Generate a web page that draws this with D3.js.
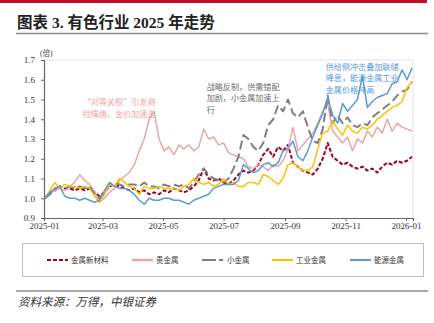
<!DOCTYPE html>
<html>
<head>
<meta charset="utf-8">
<script src="https://cdn.jsdelivr.net/npm/d3@7"></script>
<style>
  body { margin: 0; background: #fff; }
  svg { display: block; }
  .tick text { font-family: "Liberation Serif", "Times New Roman", serif; font-size: 9px; fill: #333; }
</style>
</head>
<body>
<div id="chart"></div>
<script>
// chart data
const dates = [
  "2025-01-02","2025-01-07","2025-01-12","2025-01-17","2025-01-22","2025-01-27",
  "2025-02-01","2025-02-06","2025-02-11","2025-02-16","2025-02-21","2025-02-26",
  "2025-03-03","2025-03-08","2025-03-13","2025-03-18","2025-03-23","2025-03-28",
  "2025-04-02","2025-04-07","2025-04-12","2025-04-17","2025-04-22","2025-04-27",
  "2025-05-02","2025-05-07","2025-05-12","2025-05-17","2025-05-22","2025-05-27",
  "2025-06-01","2025-06-06","2025-06-11","2025-06-16","2025-06-21","2025-06-26",
  "2025-07-01","2025-07-06","2025-07-11","2025-07-16","2025-07-21","2025-07-26","2025-07-31",
  "2025-08-05","2025-08-10","2025-08-15","2025-08-20","2025-08-25","2025-08-30",
  "2025-09-04","2025-09-09","2025-09-14","2025-09-19","2025-09-24","2025-09-29",
  "2025-10-04","2025-10-09","2025-10-14","2025-10-19","2025-10-24","2025-10-29",
  "2025-11-03","2025-11-08","2025-11-13","2025-11-18","2025-11-23","2025-11-28",
  "2025-12-03","2025-12-08","2025-12-13","2025-12-18","2025-12-23","2025-12-28",
  "2026-01-02","2026-01-07"
];

const newMaterials = [
  1.00,1.03,1.04,1.06,1.05,1.05,1.04,1.05,1.04,1.05,1.03,1.01,1.03,1.06,1.07,1.06,1.05,1.04,
  1.05,1.03,1.04,1.02,1.03,1.02,1.04,1.03,1.05,1.04,1.03,1.04,1.06,1.09,1.15,1.10,1.09,1.10,
  1.08,1.07,1.09,1.12,1.14,1.13,1.14,1.17,1.22,1.25,1.21,1.26,1.24,1.27,1.18,1.16,1.14,1.13,
  1.12,1.15,1.20,1.28,1.21,1.19,1.17,1.18,1.16,1.15,1.16,1.14,1.15,1.13,1.16,1.18,1.17,1.19,
  1.18,1.19,1.21
];
const preciousMetals = [
  1.00,1.03,1.04,1.05,1.04,1.06,1.08,1.12,1.09,1.07,1.03,0.98,1.00,1.03,1.05,1.09,1.11,1.13,
  1.17,1.24,1.30,1.40,1.44,1.30,1.24,1.26,1.22,1.27,1.25,1.27,1.24,1.26,1.35,1.30,1.31,1.27,
  1.28,1.23,1.22,1.21,1.20,1.16,1.15,1.17,1.16,1.14,1.17,1.16,1.19,1.25,1.36,1.24,1.27,1.30,
  1.33,1.38,1.44,1.48,1.34,1.31,1.28,1.31,1.24,1.30,1.28,1.34,1.31,1.36,1.33,1.40,1.34,1.38,
  1.36,1.35,1.34
];
const minorMetals = [
  1.00,1.02,1.05,1.06,1.05,1.06,1.05,1.06,1.05,1.06,1.02,1.00,1.03,1.07,1.08,1.07,1.06,1.07,
  1.07,1.06,1.08,1.06,1.06,1.05,1.07,1.06,1.07,1.06,1.07,1.05,1.08,1.12,1.15,1.12,1.10,1.09,
  1.08,1.10,1.15,1.21,1.32,1.30,1.26,1.24,1.28,1.37,1.40,1.47,1.44,1.50,1.43,1.41,1.44,1.36,
  1.29,1.28,1.35,1.52,1.38,1.42,1.38,1.41,1.37,1.36,1.38,1.37,1.41,1.43,1.45,1.47,1.49,1.52,
  1.54,1.55,1.59
];
const industrialMetals = [
  1.00,1.04,1.08,1.05,1.07,1.06,1.06,1.05,1.06,1.05,1.01,0.98,1.02,1.07,1.06,1.10,1.08,1.06,
  1.05,1.02,1.06,1.05,1.05,1.06,1.05,1.05,1.05,1.04,1.06,1.07,1.10,1.08,1.07,1.08,1.06,1.07,
  1.10,1.07,1.08,1.06,1.06,1.08,1.08,1.07,1.12,1.11,1.09,1.07,1.10,1.17,1.18,1.16,1.14,1.14,
  1.16,1.25,1.33,1.34,1.39,1.35,1.32,1.37,1.34,1.33,1.36,1.35,1.37,1.40,1.42,1.44,1.46,1.47,
  1.49,1.56,1.59
];
const energyMetals = [
  1.00,1.03,1.05,1.06,1.01,1.00,1.00,0.99,1.00,0.99,0.98,0.99,1.04,1.08,1.06,1.05,1.05,1.04,
  1.02,0.99,0.97,1.00,0.99,0.99,1.00,1.00,0.99,0.99,0.98,0.97,0.99,1.00,1.01,1.02,1.05,1.06,
  1.07,1.07,1.07,1.09,1.17,1.15,1.13,1.14,1.17,1.18,1.16,1.18,1.24,1.25,1.29,1.21,1.19,1.24,
  1.31,1.37,1.43,1.51,1.42,1.38,1.48,1.44,1.47,1.50,1.62,1.46,1.49,1.51,1.52,1.53,1.58,1.59,
  1.65,1.60,1.66
];

const seriesNames = ["金属新材料", "贵金属", "小金属", "工业金属", "能源金属"];
const seriesValues = [newMaterials, preciousMetals, minorMetals, industrialMetals, energyMetals];
const seriesColors = ["#a50021", "#e9a7a7", "#7f7f7f", "#ffc000", "#5b9bd5"];
const seriesDash = ["4,2", null, "9,4", null, null];
const seriesWidth = [2, 1.5, 2, 1.5, 1.5];

const yTicks = [0.9, 1.0, 1.1, 1.2, 1.3, 1.4, 1.5, 1.6, 1.7];
const xTicks = ["2025-01-01","2025-03-01","2025-05-01","2025-07-01","2025-09-01","2025-11-01","2026-01-01"];

const notes = [
  {lines: ["\u201c对等关税\u201d引发避", "险情绪，金价加速走"], date: "2025-02-09", y: 1.47, color: "#f2a3a3"},
  {lines: ["战略反制，供需错配", "加剧，小金属加速上", "行"], date: "2025-06-14", y: 1.55, color: "#6d6d6d"},
  {lines: ["供给侧冲击叠加联储", "降息，能源金属工业", "金属价格冲高"], date: "2025-10-12", y: 1.65, color: "#5b9bd5"}
];

// page layout
const W = 434, H = 323;
const plot = {left: 44, right: 413, top: 60, bottom: 218};
const parse = d3.timeParse("%Y-%m-%d");
const cjk = "'Liberation Serif', 'Noto Sans CJK SC', serif";

const svg = d3.select("#chart").append("svg")
  .attr("width", W)
  .attr("height", H);

// top red bar and title
svg.append("rect").attr("x", 0).attr("y", 0).attr("width", 427).attr("height", 3).attr("fill", "#c0102c");
svg.append("text")
  .attr("x", 17).attr("y", 28)
  .attr("font-family", cjk)
  .attr("font-weight", "bold")
  .attr("font-size", 15.5)
  .attr("fill", "#222")
  .text("图表 3. 有色行业 2025 年走势");
svg.append("line").attr("x1", 16).attr("x2", 428).attr("y1", 33.5).attr("y2", 33.5)
  .attr("stroke", "#8c8c8c").attr("stroke-width", 1.5);

// scales
const x = d3.scaleTime()
  .domain([parse("2025-01-01"), parse("2026-01-08")])
  .range([plot.left, plot.right]);
const y = d3.scaleLinear()
  .domain([0.9, 1.7])
  .range([plot.bottom, plot.top]);

// light frame on top / right
svg.append("path")
  .attr("d", `M${plot.left},${plot.top}H${plot.right}V${plot.bottom}`)
  .attr("fill", "none").attr("stroke", "#e3e3e3").attr("stroke-width", 1);

// axes
const yAxis = svg.append("g")
  .attr("transform", `translate(${plot.left},0)`)
  .call(d3.axisLeft(y).tickValues(yTicks).tickFormat(d3.format(".1f")).tickSize(3).tickPadding(6));
const xAxis = svg.append("g")
  .attr("transform", `translate(0,${plot.bottom})`)
  .call(d3.axisBottom(x).tickValues(xTicks.map(parse)).tickFormat(d3.timeFormat("%Y-%m")).tickSize(3).tickPadding(2));
[yAxis, xAxis].forEach(g => {
  g.select(".domain").attr("stroke", "#666").attr("stroke-width", 1.2);
  g.selectAll(".tick line").attr("stroke", "#666");
});

svg.append("text")
  .attr("x", 40).attr("y", 56)
  .attr("font-family", cjk)
  .attr("font-size", 7.5).attr("fill", "#444")
  .text("(倍)");

// annotations (under the lines)
notes.forEach(n => {
  const t = svg.append("text")
    .attr("font-family", "'Noto Sans CJK SC', sans-serif")
    .attr("font-size", 8.1)
    .attr("fill", n.color);
  n.lines.forEach((s, i) => {
    t.append("tspan")
      .attr("x", x(parse(n.date)))
      .attr("y", y(n.y) + i * 11.5)
      .text(s);
  });
});

// lines
const line = d3.line()
  .x((d, i) => x(parse(dates[i])))
  .y(d => y(d));

seriesValues.forEach((vals, k) => {
  svg.append("path")
    .datum(vals)
    .attr("fill", "none")
    .attr("stroke", seriesColors[k])
    .attr("stroke-width", seriesWidth[k])
    .attr("stroke-dasharray", seriesDash[k])
    .attr("stroke-linejoin", "round")
    .attr("d", line);
});

// legend
svg.append("rect")
  .attr("x", 22.5).attr("y", 243.5).attr("width", 401).attr("height", 33)
  .attr("fill", "none").attr("stroke", "#bfbfbf").attr("stroke-width", 1);
const legendX = [47, 132, 202, 272, 350];
seriesNames.forEach((name, k) => {
  const g = svg.append("g").attr("transform", `translate(${legendX[k]},260)`);
  g.append("line")
    .attr("x1", 0).attr("x2", 21).attr("y1", 0).attr("y2", 0)
    .attr("stroke", seriesColors[k])
    .attr("stroke-width", k === 1 ? 2.5 : 2)
    .attr("stroke-dasharray", k === 2 ? "14,3" : seriesDash[k]);
  g.append("text")
    .attr("x", k === 2 ? 25 : 24).attr("y", 3)
    .attr("font-family", "'Noto Sans CJK SC', sans-serif")
    .attr("font-size", 7.5).attr("fill", "#333")
    .text(name);
});

// source line
svg.append("line").attr("x1", 16).attr("x2", 428).attr("y1", 291).attr("y2", 291)
  .attr("stroke", "#8c8c8c").attr("stroke-width", 1.5);
svg.append("text")
  .attr("x", 18).attr("y", 306)
  .attr("font-family", "'Noto Sans CJK SC', sans-serif")
  .attr("font-style", "italic")
  .attr("font-size", 11.5).attr("fill", "#333")
  .text("资料来源：万得，中银证券");
</script>
</body>
</html>
